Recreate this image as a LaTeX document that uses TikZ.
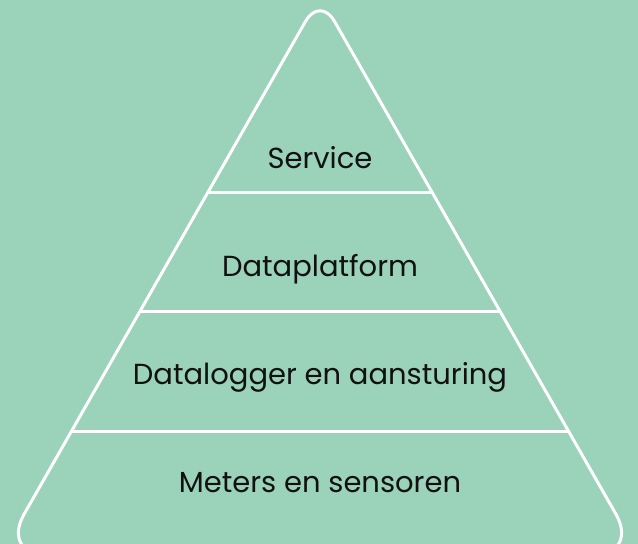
\documentclass[tikz,border=0pt]{standalone}
\usepackage{fontspec}
\setmainfont{Poppins}
\usetikzlibrary{calc}
\definecolor{bgc}{RGB}{155,210,186}
\definecolor{txt}{RGB}{17,17,17}
\tikzset{
  edge/.style={draw=white, line width=3pt, line join=round},
  lab/.style={anchor=base, text=txt, font=\fontsize{29}{35}\selectfont, inner sep=0pt}
}
\begin{document}
\begin{tikzpicture}[x=1pt,y=-1pt]
\useasboundingbox (0,0) rectangle (638,544);
\fill[bgc] (0,0) rectangle (638,544);
\clip (0,0) rectangle (638,544);
\coordinate (A) at (320,-4);
\coordinate (BL) at (0.2,556);
\coordinate (BR) at (639.8,556);
\coordinate (BM) at (320,556);
\draw[edge] (BM) [rounded corners=48pt] -- (BL) [rounded corners=29pt] -- (A) [rounded corners=48pt] -- (BR) -- cycle;
\draw[edge] ($(A)!0.35!(BL)$) -- ($(A)!0.35!(BR)$);
\draw[edge] ($(A)!0.5625!(BL)$) -- ($(A)!0.5625!(BR)$);
\draw[edge] ($(A)!0.7768!(BL)$) -- ($(A)!0.7768!(BR)$);
\node[lab] (s) at (320,168) {Service};
\node[lab] (d) at (320,276) {Dataplatform};
\node[lab] (l) at (320,384) {Datalogger en aansturing};
\node[lab] (m) at (320,492) {Meters en sensoren};
\end{tikzpicture}
\end{document}
